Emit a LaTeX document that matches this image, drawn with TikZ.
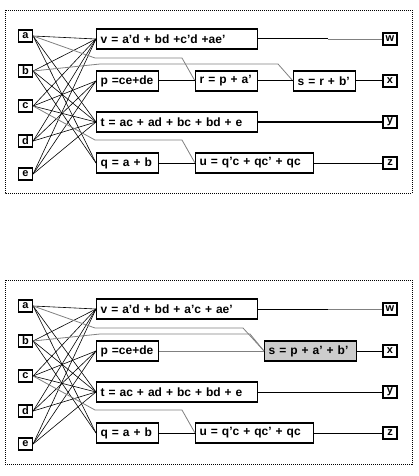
\documentclass[tikz,border=0pt]{standalone}
\usepackage{fontspec}
\setmainfont{Liberation Sans}
\usetikzlibrary{positioning}

\begin{document}
\begin{tikzpicture}[
        x = 1pt, y = -1pt, % pixel grid, y going down
        font = \fontsize{12}{13}\selectfont\bfseries,
        semithick % line style
    ]

    \tikzstyle{gate}=[
        draw = black,
        line width = 1.3pt,
        minimum height = 20pt,
        inner xsep = 4pt,
        inner ysep = 0pt,
        anchor = west,
        align = left
    ]
    \tikzstyle{port}=[
        draw = black,
        line width = 1.2pt,
        minimum width = 14pt,
        minimum height = 12pt,
        inner sep = 0pt,
        font = \fontsize{11}{11}\selectfont\bfseries
    ]
    \tikzstyle{wire}=[line width = 0.6pt]
    \tikzstyle{link}=[line width = 1pt]
    \tikzstyle{greywire}=[gray, line width = 0.8pt]
    \tikzstyle{panel}=[line width = 0.8pt, dash pattern = on 1pt off 1pt]

    \useasboundingbox (0,0) rectangle (418,476);

    % ---- first circuit ----
    \draw[panel] (5,10) rectangle (412,193);

    \node[port] (a) at (25.5,36) {a};
    \node[port] (b) at (25.5,71) {b};
    \node[port] (c) at (25.5,106) {c};
    \node[port] (d) at (25.5,141) {d};
    \node[port] (e) at (25.5,174) {e};

    \node[gate, text width = 153pt] (v) at (96,39) {\mbox{v = a'd + bd +c'd +ae'}};
    \node[gate, text width = 54pt] (p) at (96,81) {\mbox{p =ce+de}};
    \node[gate, text width = 54pt] (r) at (195,81) {\mbox{r = p + a'}};
    \node[gate, text width = 54pt] (s) at (293,81) {\mbox{s = r + b'}};
    \node[gate, text width = 153pt] (t) at (96,122) {\mbox{t = ac + ad + bc + bd + e}};
    \node[gate, text width = 54pt] (q) at (96,163) {\mbox{q = a + b}};
    \node[gate, text width = 110pt] (u) at (195,163) {\mbox{u = q'c + qc' + qc}};

    \node[port] (w) at (390,39) {w};
    \node[port] (x) at (390,81) {x};
    \node[port] (y) at (390,122) {y};
    \node[port] (z) at (390,163) {z};

    \foreach \i in {a,b,c,d,e} \draw[wire] (\i.east) -- (v.west);
    \foreach \i in {a,b,c,d,e} \draw[wire] (\i.east) -- (t.west);
    \foreach \i in {c,d,e} \draw[wire] (\i.east) -- (p.west);
    \foreach \i in {a,b} \draw[wire] (\i.east) -- (q.west);

    \coordinate (ar1) at (95,58);
    \coordinate (ar2) at (182,58);
    \coordinate (bs1) at (100,64);
    \coordinate (bs2) at (278,64);
    \coordinate (cu1) at (95,140);
    \coordinate (cu2) at (182,140);
    \draw[greywire] (a.east) -- (ar1) -- (ar2) -- (r.west);
    \draw[greywire] (b.east) -- (bs1) -- (bs2) -- (s.west);
    \draw[greywire] (c.east) -- (cu1) -- (cu2) -- (u.west);

    \coordinate (vw) at (328,39);
    \draw[link] (v) -- (vw);
    \draw[greywire] (vw) -- (w);
    \draw[link] (p) -- (r);
    \draw[link] (r) -- (s);
    \draw[link] (s) -- (x);
    \draw[link] (t) -- (y);
    \draw[link] (q) -- (u);
    \draw[link] (u) -- (z);

    % ---- second circuit, s merged ----
    \draw[panel] (5,280) rectangle (412,464);

    \node[port] (a2) at (25.5,306) {a};
    \node[port] (b2) at (25.5,341) {b};
    \node[port] (c2) at (25.5,376) {c};
    \node[port] (d2) at (25.5,411) {d};
    \node[port] (e2) at (25.5,444) {e};

    \node[gate, text width = 153pt] (v2) at (96,309) {\mbox{v = a'd + bd + a'c + ae'}};
    \node[gate, text width = 54pt] (p2) at (96,351) {\mbox{p =ce+de}};
    \node[gate, text width = 84pt, fill = gray!40] (s2) at (264,351) {\mbox{s = p + a' + b'}};
    \node[gate, text width = 153pt] (t2) at (96,392) {\mbox{t = ac + ad + bc + bd + e}};
    \node[gate, text width = 54pt] (q2) at (96,433) {\mbox{q = a + b}};
    \node[gate, text width = 110pt] (u2) at (195,433) {\mbox{u = q'c + qc' + qc}};

    \node[port] (w2) at (390,309) {w};
    \node[port] (x2) at (390,351) {x};
    \node[port] (y2) at (390,392) {y};
    \node[port] (z2) at (390,433) {z};

    \foreach \i in {a2,b2,c2,d2,e2} \draw[wire] (\i.east) -- (v2.west);
    \foreach \i in {a2,b2,c2,d2,e2} \draw[wire] (\i.east) -- (t2.west);
    \foreach \i in {c2,d2,e2} \draw[wire] (\i.east) -- (p2.west);
    \foreach \i in {a2,b2} \draw[wire] (\i.east) -- (q2.west);

    \coordinate (as1) at (95,328);
    \coordinate (as2) at (243,328);
    \coordinate (bt1) at (100,334);
    \coordinate (bt2) at (250,334);
    \coordinate (cv1) at (95,410);
    \coordinate (cv2) at (182,410);
    \draw[greywire] (a2.east) -- (as1) -- (as2) -- (s2.west);
    \draw[greywire] (b2.east) -- (bt1) -- (bt2) -- (s2.west);
    \draw[greywire] (p2) -- (s2);
    \draw[greywire] (c2.east) -- (cv1) -- (cv2) -- (u2.west);

    \coordinate (vw2) at (328,309);
    \draw[link] (v2) -- (vw2);
    \draw[greywire] (vw2) -- (w2);
    \draw[link] (s2) -- (x2);
    \draw[link] (t2) -- (y2);
    \draw[link] (q2) -- (u2);
    \draw[link] (u2) -- (z2);

\end{tikzpicture}
\end{document}
